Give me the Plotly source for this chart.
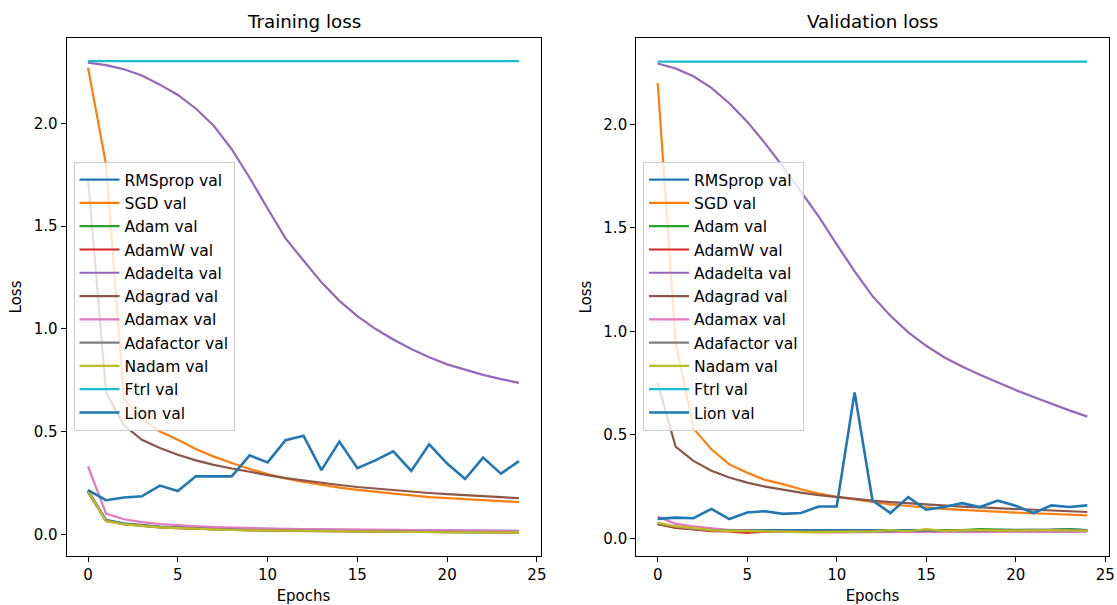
import plotly.graph_objects as go

epochs = list(range(25))

names = ["RMSprop", "SGD", "Adam", "AdamW", "Adadelta", "Adagrad",
         "Adamax", "Adafactor", "Nadam", "Ftrl", "Lion"]
colors = ["#1f77b4", "#ff7f0e", "#2ca02c", "#d62728", "#9467bd", "#8c564b",
          "#e377c2", "#7f7f7f", "#bcbd22", "#17becf", "#1f77b4"]

# ---- Training loss (left panel) ----
train_rmsprop = [0.215, 0.07, 0.053, 0.044, 0.038, 0.034, 0.031, 0.029, 0.027, 0.025, 0.024, 0.023, 0.022,
                 0.021, 0.021, 0.02, 0.02, 0.019, 0.019, 0.018, 0.018, 0.018, 0.017, 0.017, 0.017]
train_sgd = [2.27, 1.80, 0.66, 0.56, 0.50, 0.46, 0.415, 0.378, 0.347, 0.318, 0.293, 0.272, 0.255,
             0.24, 0.227, 0.216, 0.207, 0.199, 0.19, 0.181, 0.176, 0.171, 0.166, 0.161, 0.157]
train_adam = [0.208, 0.066, 0.05, 0.041, 0.035, 0.031, 0.027, 0.024, 0.022, 0.02, 0.019, 0.017, 0.016,
              0.015, 0.014, 0.014, 0.013, 0.012, 0.012, 0.011, 0.011, 0.011, 0.01, 0.01, 0.01]
train_adamw = [0.21, 0.065, 0.049, 0.04, 0.034, 0.03, 0.027, 0.024, 0.022, 0.02, 0.018, 0.017, 0.016,
               0.015, 0.014, 0.013, 0.013, 0.012, 0.012, 0.011, 0.011, 0.01, 0.01, 0.01, 0.009]
train_adadelta = [2.295, 2.283, 2.263, 2.233, 2.188, 2.138, 2.072, 1.988, 1.874, 1.735, 1.585, 1.44, 1.332,
                  1.226, 1.136, 1.062, 1.0, 0.948, 0.902, 0.861, 0.827, 0.8, 0.776, 0.755, 0.737]
train_adagrad = [1.73, 0.69, 0.53, 0.46, 0.42, 0.387, 0.36, 0.338, 0.32, 0.303, 0.288, 0.273, 0.261,
                 0.25, 0.24, 0.23, 0.222, 0.214, 0.207, 0.201, 0.195, 0.19, 0.185, 0.18, 0.176]
train_adamax = [0.33, 0.101, 0.073, 0.059, 0.05, 0.043, 0.039, 0.035, 0.032, 0.03, 0.028, 0.026, 0.025,
                0.024, 0.023, 0.022, 0.021, 0.02, 0.02, 0.019, 0.018, 0.018, 0.017, 0.017, 0.016]
train_adafactor = [0.205, 0.068, 0.051, 0.042, 0.036, 0.032, 0.028, 0.025, 0.023, 0.021, 0.02, 0.018, 0.017,
                   0.016, 0.015, 0.014, 0.014, 0.013, 0.013, 0.012, 0.012, 0.011, 0.011, 0.011, 0.01]
train_nadam = [0.212, 0.063, 0.048, 0.04, 0.034, 0.03, 0.026, 0.023, 0.021, 0.019, 0.018, 0.016, 0.015,
               0.014, 0.013, 0.013, 0.012, 0.011, 0.011, 0.01, 0.01, 0.01, 0.009, 0.009, 0.009]
train_ftrl = [2.3026, 2.3026, 2.3026, 2.3026, 2.3026, 2.3026, 2.3026, 2.3026, 2.3026, 2.3026, 2.3026, 2.3026,
              2.3026, 2.3026, 2.3026, 2.3026, 2.3026, 2.3026, 2.3026, 2.3026, 2.3026, 2.3026, 2.3026, 2.3026, 2.3026]
train_lion = [0.215, 0.166, 0.179, 0.185, 0.237, 0.211, 0.282, 0.282, 0.282, 0.384, 0.35, 0.458, 0.48,
              0.312, 0.451, 0.322, 0.36, 0.404, 0.308, 0.438, 0.344, 0.269, 0.373, 0.295, 0.356]

# ---- Validation loss (right panel) ----
val_rmsprop = [0.07, 0.055, 0.048, 0.042, 0.04, 0.04, 0.038, 0.038, 0.037, 0.037, 0.038, 0.038, 0.037,
               0.038, 0.039, 0.038, 0.039, 0.04, 0.04, 0.041, 0.04, 0.041, 0.042, 0.045, 0.04]
val_sgd = [2.2, 0.95, 0.53, 0.43, 0.357, 0.317, 0.282, 0.262, 0.237, 0.216, 0.2, 0.187, 0.175,
           0.164, 0.156, 0.148, 0.142, 0.137, 0.132, 0.128, 0.124, 0.121, 0.117, 0.114, 0.111]
val_adam = [0.068, 0.05, 0.045, 0.036, 0.038, 0.036, 0.035, 0.034, 0.033, 0.034, 0.033, 0.032, 0.033,
            0.035, 0.036, 0.037, 0.038, 0.04, 0.045, 0.042, 0.04, 0.041, 0.04, 0.043, 0.038]
val_adamw = [0.07, 0.052, 0.043, 0.035, 0.033, 0.026, 0.032, 0.031, 0.03, 0.031, 0.03, 0.031, 0.032,
             0.033, 0.035, 0.032, 0.036, 0.037, 0.039, 0.036, 0.037, 0.04, 0.041, 0.038, 0.036]
val_adadelta = [2.294, 2.27, 2.232, 2.176, 2.102, 2.013, 1.908, 1.795, 1.675, 1.554, 1.42, 1.29, 1.17,
                1.075, 0.995, 0.93, 0.875, 0.83, 0.79, 0.752, 0.716, 0.683, 0.65, 0.618, 0.588]
val_adagrad = [0.75, 0.443, 0.374, 0.326, 0.294, 0.269, 0.25, 0.234, 0.221, 0.209, 0.199, 0.19, 0.182,
               0.175, 0.169, 0.163, 0.158, 0.153, 0.149, 0.145, 0.141, 0.137, 0.134, 0.131, 0.127]
val_adamax = [0.105, 0.07, 0.058, 0.048, 0.04, 0.037, 0.034, 0.033, 0.031, 0.03, 0.03, 0.029, 0.029,
              0.03, 0.029, 0.031, 0.029, 0.03, 0.031, 0.029, 0.03, 0.03, 0.031, 0.03, 0.031]
val_adafactor = [0.072, 0.056, 0.046, 0.04, 0.038, 0.036, 0.035, 0.034, 0.034, 0.033, 0.034, 0.034, 0.033,
                 0.034, 0.035, 0.035, 0.036, 0.037, 0.037, 0.038, 0.038, 0.039, 0.039, 0.04, 0.038]
val_nadam = [0.075, 0.058, 0.05, 0.038, 0.036, 0.034, 0.032, 0.031, 0.03, 0.03, 0.032, 0.031, 0.033,
             0.04, 0.034, 0.045, 0.036, 0.038, 0.04, 0.037, 0.036, 0.038, 0.04, 0.039, 0.036]
val_ftrl = [2.3026, 2.3026, 2.3026, 2.3026, 2.3026, 2.3026, 2.3026, 2.3026, 2.3026, 2.3026, 2.3026, 2.3026,
            2.3026, 2.3026, 2.3026, 2.3026, 2.3026, 2.3026, 2.3026, 2.3026, 2.3026, 2.3026, 2.3026, 2.3026, 2.3026]
val_lion = [0.094, 0.1, 0.097, 0.142, 0.093, 0.125, 0.131, 0.118, 0.122, 0.154, 0.154, 0.705, 0.183,
            0.122, 0.199, 0.138, 0.151, 0.17, 0.151, 0.182, 0.157, 0.122, 0.159, 0.151, 0.159]

train_series = [train_rmsprop, train_sgd, train_adam, train_adamw, train_adadelta, train_adagrad,
                train_adamax, train_adafactor, train_nadam, train_ftrl, train_lion]
val_series = [val_rmsprop, val_sgd, val_adam, val_adamw, val_adadelta, val_adagrad,
              val_adamax, val_adafactor, val_nadam, val_ftrl, val_lion]

x_ticks = [0, 5, 10, 15, 20, 25]
y_ticks = [0.0, 0.5, 1.0, 1.5, 2.0]

FONT = "DejaVu Sans"
FS = 15
LFS = 15.6
W, H = 1117, 605

fig = go.Figure()
for side, series, xa, ya, leg in [("L", train_series, "x", "y", "legend"),
                                  ("R", val_series, "x2", "y2", "legend2")]:
    for name, col, vals in zip(names, colors, series):
        fig.add_trace(go.Scatter(
            x=epochs, y=vals, mode="lines", name=f"{name} val",
            line=dict(color=col, width=2.6 if name == "Lion" else 2.2),
            xaxis=xa, yaxis=ya, legend=leg, legendgroup=f"{side}_{name}",
        ))

def xpx(a, b):
    return [a / W, b / W]

ydom = [(H - 556) / H, (H - 38) / H]

axis_common = dict(showgrid=False, zeroline=False, showline=True, mirror=True,
                   linecolor="black", linewidth=1, ticks="outside", ticklen=5,
                   tickwidth=1, tickcolor="black", automargin=False,
                   tickfont=dict(family=FONT, size=FS, color="black"))

legend_common = dict(xanchor="left", yanchor="top",
                     bgcolor="rgba(255,255,255,0.8)", bordercolor="#cccccc", borderwidth=1,
                     font=dict(family=FONT, size=LFS, color="black"), tracegroupgap=0,
                     itemwidth=40)

fig.update_layout(
    width=W, height=H, margin=dict(l=0, r=0, t=0, b=0),
    paper_bgcolor="white", plot_bgcolor="white",
    font=dict(family=FONT, size=FS, color="black"),
    xaxis=dict(domain=xpx(66.5, 540.5), range=[-1.2, 25.2], tickvals=x_ticks, anchor="y",
               title=dict(text="Epochs", standoff=7, font=dict(size=FS)), **axis_common),
    yaxis=dict(domain=ydom, range=[-0.1056, 2.415], tickvals=y_ticks, tickformat=".1f", anchor="x",
               title=dict(text="Loss", standoff=8, font=dict(size=FS)), **axis_common),
    xaxis2=dict(domain=xpx(636.2, 1108.8), range=[-1.2, 25.2], tickvals=x_ticks, anchor="y2",
                title=dict(text="Epochs", standoff=7, font=dict(size=FS)), **axis_common),
    yaxis2=dict(domain=ydom, range=[-0.0855, 2.417], tickvals=y_ticks, tickformat=".1f", anchor="x2",
                title=dict(text="Loss", standoff=8, font=dict(size=FS)), **axis_common),
    legend=dict(x=73.5 / W, y=(H - 162) / H, **legend_common),
    legend2=dict(x=643 / W, y=(H - 162) / H, **legend_common),
    showlegend=True,
    annotations=[
        dict(text="Training loss", x=(66.5 + 540.5) / 2 / W, y=(H - 34) / H, xref="paper", yref="paper",
             xanchor="center", yanchor="bottom", showarrow=False,
             font=dict(family=FONT, size=18.3, color="black")),
        dict(text="Validation loss", x=(636.2 + 1108.8) / 2 / W, y=(H - 34) / H, xref="paper", yref="paper",
             xanchor="center", yanchor="bottom", showarrow=False,
             font=dict(family=FONT, size=18.3, color="black")),
    ],
)

fig.write_html("out.html")
